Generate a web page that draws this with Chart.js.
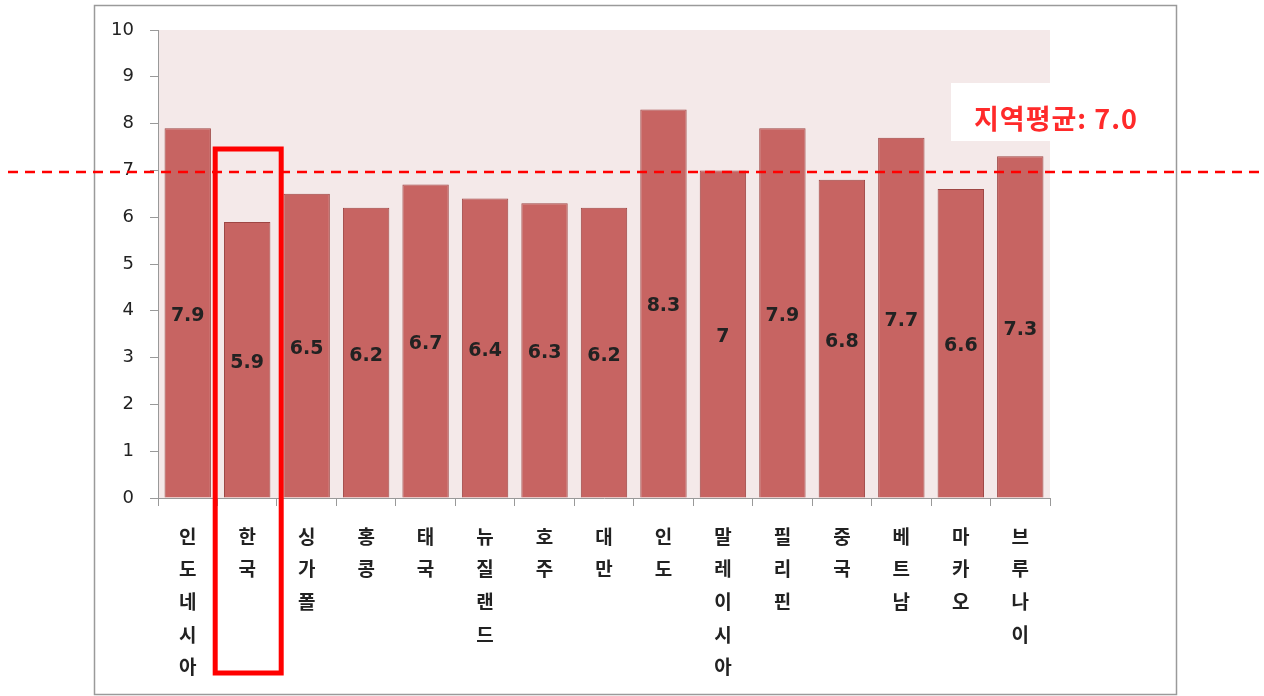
<!DOCTYPE html>
<html>
<head>
<meta charset="utf-8">
<script src="https://cdn.jsdelivr.net/npm/chart.js@4/dist/chart.umd.min.js"></script>
<style>
  html, body { margin: 0; padding: 0; background: #fff; }
  #wrap { width: 1264px; height: 696px; }
</style>
</head>
<body>
<div id="wrap"><canvas id="myChart" width="1264" height="696"></canvas></div>
<script>
"use strict";

//--------------------DATA

let countries = ["인도네시아", "한국", "싱가폴", "홍콩", "태국", "뉴질랜드", "호주", "대만",
  "인도", "말레이시아", "필리핀", "중국", "베트남", "마카오", "브루나이"];
let scores = [7.9, 5.9, 6.5, 6.2, 6.7, 6.4, 6.3, 6.2, 8.3, 7.0, 7.9, 6.8, 7.7, 6.6, 7.3];
let yTicks = [0, 1, 2, 3, 4, 5, 6, 7, 8, 9, 10];
let regionAverage = 7.0;
let averageText = "지역평균: 7.0";
let highlightIndex = 1; // 한국

//--------------------PLUGINS

// pink plot background + outer frame
const backgroundPlugin = {
  id: "background",
  beforeDraw(chart) {
    const ctx = chart.ctx;
    const a = chart.chartArea;
    ctx.save();
    ctx.fillStyle = "#fff";
    ctx.fillRect(0, 0, chart.width, chart.height);
    ctx.fillStyle = "#f4e9e9";
    ctx.fillRect(a.left, a.top, a.right - a.left, a.bottom - a.top);
    ctx.strokeStyle = "#9a9a9a";
    ctx.lineWidth = 1.5;
    ctx.strokeRect(94.5, 5.5, 1082, 689);
    ctx.restore();
  },
};

// value labels, average line, highlight box
const overlayPlugin = {
  id: "overlay",
  afterDatasetsDraw(chart) {
    const ctx = chart.ctx;
    const meta = chart.getDatasetMeta(0);
    const yScale = chart.scales.y;
    const xScale = chart.scales.x;
    ctx.save();

    // numbers in the middle of each bar
    ctx.font = "bold 19px 'DejaVu Sans'";
    ctx.fillStyle = "#222";
    ctx.textAlign = "center";
    ctx.textBaseline = "middle";
    meta.data.forEach((bar, i) => {
      ctx.fillText(String(scores[i]), bar.x, (bar.y + bar.base) / 2 + 3);
    });

    // white box + average text
    const a = chart.chartArea;
    ctx.fillStyle = "#fff";
    ctx.fillRect(951, 83, a.right - 951, 58);
    ctx.font = "bold 27px 'Noto Sans CJK KR'";
    ctx.letterSpacing = "1px";
    ctx.fillStyle = "#ff2a2a";
    ctx.textAlign = "left";
    ctx.fillText(averageText, 974, 119);
    ctx.letterSpacing = "0px";

    // dashed average line across the whole picture
    const yAvg = yScale.getPixelForValue(regionAverage) + 1.5;
    ctx.strokeStyle = "#ff0000";
    ctx.lineWidth = 2.5;
    ctx.setLineDash([10, 7]);
    ctx.beginPath();
    ctx.moveTo(8, yAvg);
    ctx.lineTo(chart.width, yAvg);
    ctx.stroke();
    ctx.setLineDash([]);

    // red box round Korea
    const cx = xScale.getPixelForValue(highlightIndex);
    ctx.lineWidth = 5;
    ctx.strokeRect(cx - 32, 149, 66, 524);

    ctx.restore();
  },
};

//--------------------CHART

function renderChart() {
  const ctx = document.getElementById("myChart").getContext("2d");
  new Chart(ctx, {
    type: "bar",
    data: {
      labels: countries.map((c) => c.split("")),
      datasets: [
        {
          data: scores,
          backgroundColor: "#c76462",
          borderColor: "#9e4644",
          borderWidth: 1,
          barPercentage: 0.78,
          categoryPercentage: 1,
        },
      ],
    },
    options: {
      responsive: false,
      animation: false,
      layout: { padding: { top: 30, right: 214, left: 0, bottom: 0 } },
      plugins: { legend: { display: false }, tooltip: { enabled: false } },
      scales: {
        x: {
          grid: { drawOnChartArea: false, color: "#999", tickLength: 8, offset: true },
          border: { color: "#999" },
          ticks: {
            color: "#222",
            padding: 14,
            maxRotation: 0,
            autoSkip: false,
            font: { family: "'Noto Sans CJK KR'", size: 19, weight: "bold", lineHeight: 1.72 },
          },
          afterFit(scale) { scale.height = 198; },
        },
        y: {
          min: 0,
          max: 10,
          afterBuildTicks(scale) { scale.ticks = yTicks.map((v) => ({ value: v })); },
          grid: { drawOnChartArea: false, color: "#999", tickLength: 8 },
          border: { color: "#999" },
          ticks: {
            color: "#222",
            padding: 16,
            font: { family: "'DejaVu Sans'", size: 18 },
          },
          afterFit(scale) { scale.width = 158; },
        },
      },
    },
    plugins: [backgroundPlugin, overlayPlugin],
  });
}

renderChart();
</script>
</body>
</html>
